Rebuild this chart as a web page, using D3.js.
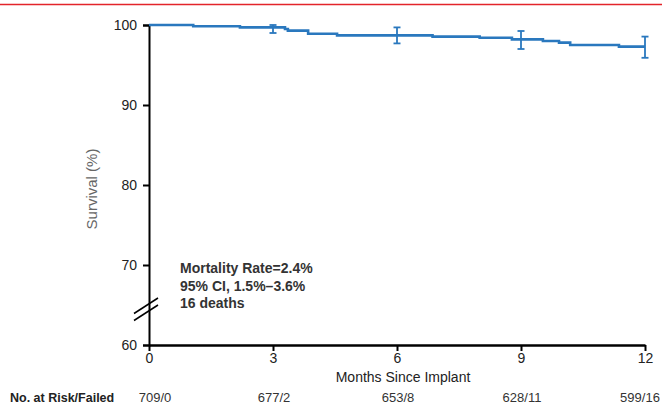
<!DOCTYPE html>
<html>
<head>
<meta charset="utf-8">
<script src="https://cdn.jsdelivr.net/npm/d3@7"></script>
<style>
  body { margin: 0; background: #fff; }
  svg { display: block; font-family: "Liberation Sans", Arial, sans-serif; }
</style>
</head>
<body>
<svg id="chart" width="662" height="406"></svg>
<script>
// Datos de la curva (meses, supervivencia %)
let months = [0, 1.07, 2.2, 3.29, 3.36, 3.85, 4.55, 6.86, 8.0, 8.78, 9.53, 9.92, 10.19, 11.37, 12];
let survival = [100, 99.85, 99.7, 99.5, 99.3, 98.9, 98.7, 98.55, 98.4, 98.2, 98.0, 97.8, 97.5, 97.3, 97.3];

// Intervalos de confianza
let ciMonths = [3, 6, 9, 12];
let ciLow = [99.0, 97.7, 97.0, 95.9];
let ciHigh = [100, 99.7, 99.25, 98.55];

// Ejes
let xTicks = [0, 3, 6, 9, 12];
let yTicks = [60, 70, 80, 90, 100];
let atRisk = ['709/0', '677/2', '653/8', '628/11', '599/16'];

let noteLines = ['Mortality Rate=2.4%', '95% CI, 1.5%\u20133.6%', '16 deaths'];

let svg = d3.select('#chart');
let blue = '#2a78be';

let x = d3.scaleLinear().domain([0, 12]).range([149, 645]);
let y = d3.scaleLinear().domain([60, 100]).range([345, 25]);

// linea roja superior
svg.append('line')
    .attr('x1', 0).attr('x2', 662)
    .attr('y1', 4.5).attr('y2', 4.5)
    .attr('stroke', '#e3242b')
    .attr('stroke-width', 1.6);

// eje Y
let yAxis = svg.append('g')
    .attr('transform', 'translate(' + x(0) + ',0)')
    .call(d3.axisLeft(y).tickValues(yTicks).tickSize(6).tickPadding(6));
yAxis.select('.domain').attr('stroke', '#000').attr('stroke-width', 2);
yAxis.selectAll('.tick line').attr('stroke', '#000').attr('stroke-width', 2);
yAxis.selectAll('.tick text').attr('font-size', 14).attr('fill', '#222')
    .attr('font-family', '"Liberation Sans", Arial, sans-serif');

// eje X
let xAxis = svg.append('g')
    .attr('transform', 'translate(0,' + y(60) + ')')
    .call(d3.axisBottom(x).tickValues(xTicks).tickSize(6).tickPadding(2).tickSizeOuter(0));
xAxis.select('.domain').attr('stroke', '#000').attr('stroke-width', 2.4);
xAxis.selectAll('.tick line').attr('stroke', '#000').attr('stroke-width', 2);
xAxis.selectAll('.tick text').attr('font-size', 14).attr('fill', '#222')
    .attr('font-family', '"Liberation Sans", Arial, sans-serif');

// corte del eje
let bx = x(0), by = y(64.5);
[-3.5, 3.5].forEach(function(o) {
    svg.append('line')
        .attr('x1', bx - 15).attr('y1', by + o + 8)
        .attr('x2', bx + 9).attr('y2', by + o - 7.5)
        .attr('stroke', '#000').attr('stroke-width', 1.5);
});

// titulos
svg.append('text')
    .attr('transform', 'translate(97,' + y(79.5) + ') rotate(-90)')
    .attr('text-anchor', 'middle')
    .attr('font-size', 15)
    .attr('fill', '#666')
    .text('Survival (%)');

svg.append('text')
    .attr('x', 403).attr('y', 382)
    .attr('text-anchor', 'middle')
    .attr('font-size', 14)
    .attr('fill', '#222')
    .text('Months Since Implant');

// numero en riesgo
svg.append('text')
    .attr('x', 10).attr('y', 402)
    .attr('font-size', 12.5)
    .attr('font-weight', 'bold')
    .attr('fill', '#222')
    .text('No. at Risk/Failed');

svg.selectAll('.risk')
    .data(atRisk)
    .enter()
    .append('text')
    .attr('class', 'risk')
    .attr('x', function(d, i) { return x(xTicks[i]) + (i == 0 ? 6 : i == 4 ? -5 : 1); })
    .attr('y', 402)
    .attr('text-anchor', 'middle')
    .attr('font-size', 13)
    .attr('fill', '#333')
    .text(function(d) { return d; });

// nota
svg.selectAll('.note')
    .data(noteLines)
    .enter()
    .append('text')
    .attr('class', 'note')
    .attr('x', 180)
    .attr('y', function(d, i) { return 273 + i * 17.5; })
    .attr('font-size', 14)
    .attr('font-weight', 'bold')
    .attr('fill', '#333')
    .text(function(d) { return d; });

// curva
let points = months.map(function(m, i) { return [m, survival[i]]; });
let line = d3.line()
    .x(function(d) { return x(d[0]); })
    .y(function(d) { return y(d[1]); })
    .curve(d3.curveStepAfter);

svg.append('path')
    .datum(points)
    .attr('d', line)
    .attr('fill', 'none')
    .attr('stroke', blue)
    .attr('stroke-width', 2.6);

// barras de error
let ci = ciMonths.map(function(m, i) { return {m: m, lo: ciLow[i], hi: ciHigh[i]}; });
let eb = svg.selectAll('.ci').data(ci).enter().append('g').attr('class', 'ci')
    .attr('stroke', blue).attr('stroke-width', 1.8);
eb.append('line')
    .attr('x1', function(d) { return x(d.m); }).attr('x2', function(d) { return x(d.m); })
    .attr('y1', function(d) { return y(d.lo); }).attr('y2', function(d) { return y(d.hi); });
eb.append('line')
    .attr('x1', function(d) { return x(d.m) - 3.5; }).attr('x2', function(d) { return x(d.m) + 3.5; })
    .attr('y1', function(d) { return y(d.lo); }).attr('y2', function(d) { return y(d.lo); });
eb.append('line')
    .attr('x1', function(d) { return x(d.m) - 3.5; }).attr('x2', function(d) { return x(d.m) + 3.5; })
    .attr('y1', function(d) { return y(d.hi); }).attr('y2', function(d) { return y(d.hi); });
</script>
</body>
</html>
